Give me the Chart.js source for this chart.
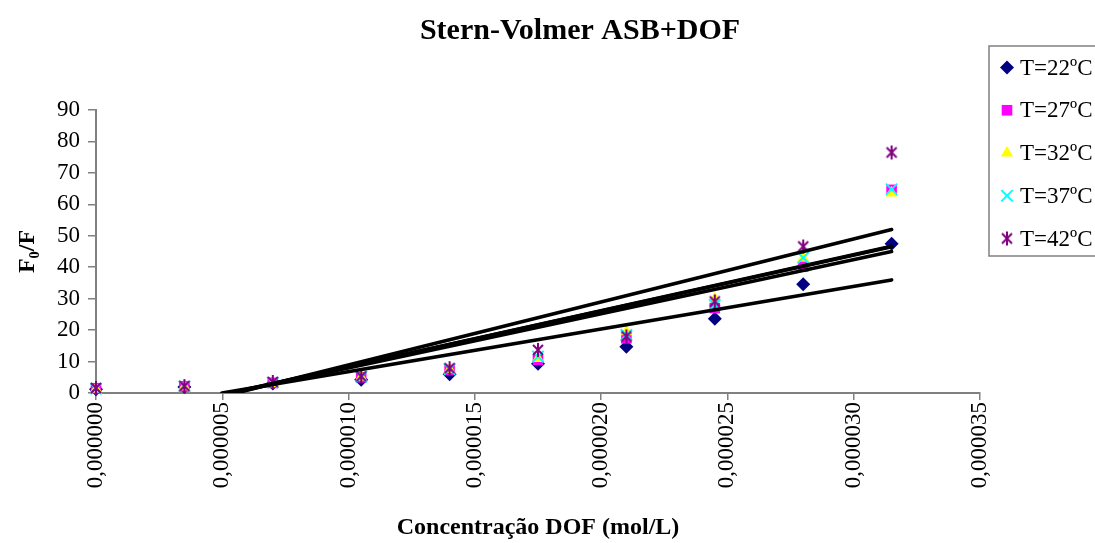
<!DOCTYPE html>
<html>
<head>
<meta charset="utf-8">
<script src="https://cdn.jsdelivr.net/npm/chart.js@4/dist/chart.umd.min.js"></script>
<style>
  html, body { margin: 0; padding: 0; background: #fff; }
  #wrap { width: 1095px; height: 543px; position: relative; }
</style>
</head>
<body>
<div id="wrap"><canvas id="c" width="1095" height="543"></canvas></div>
<script>
// DOF concentration (mol/L)
const conc = [0, 3.5e-6, 7e-6, 1.05e-5, 1.4e-5, 1.75e-5, 2.1e-5, 2.45e-5, 2.8e-5, 3.15e-5];

// F0/F at each temperature
const t22 = [1.2, 1.9, 3.0, 4.2, 6.0, 9.3, 14.7, 23.6, 34.6, 47.5];
const t27 = [1.5, 2.1, 3.2, 5.0, 7.3, 10.5, 17.4, 27.0, 40.2, 64.6];
const t32 = [1.3, 2.0, 3.0, 5.0, 7.5, 11.0, 19.5, 30.0, 42.9, 63.6];
const t37 = [1.4, 2.1, 3.3, 5.2, 7.6, 11.6, 18.5, 28.0, 43.0, 64.8];
const t42 = [1.6, 2.2, 3.5, 5.3, 7.9, 13.7, 18.0, 29.1, 46.6, 76.5];

const seriesLabels = ['T=22ºC', 'T=27ºC', 'T=32ºC', 'T=37ºC', 'T=42ºC'];
const seriesValues = [t22, t27, t32, t37, t42];

// x-axis ticks
const xMin = 0, xMax = 0.000035, xStep = 0.000005;
// y-axis ticks
const yMin = 0, yMax = 90, yStep = 10;

// six-armed asterisk marker
function asteriskMarker(color) {
  const s = 16, c = document.createElement('canvas');
  c.width = s; c.height = s;
  const g = c.getContext('2d');
  g.strokeStyle = color; g.lineWidth = 2;
  g.beginPath();
  g.moveTo(3, 3); g.lineTo(13, 13);
  g.moveTo(13, 3); g.lineTo(3, 13);
  g.moveTo(8, 1); g.lineTo(8, 15);
  g.stroke();
  return c;
}

const styles = [
  { pointStyle: 'rectRot', radius: 7, color: '#000080', fill: true },
  { pointStyle: 'rect', radius: 7.5, color: '#FF00FF', fill: true },
  { pointStyle: 'triangle', radius: 7, color: '#FFFF00', fill: true },
  { pointStyle: 'crossRot', radius: 8, color: '#00FFFF', fill: false },
  { pointStyle: asteriskMarker('#800080'), radius: 8, color: '#800080', fill: false }
];

// least-squares line through each series
function fit(xs, ys) {
  const n = xs.length;
  const mx = xs.reduce((a, b) => a + b, 0) / n;
  const my = ys.reduce((a, b) => a + b, 0) / n;
  let sxy = 0, sxx = 0;
  for (let i = 0; i < n; i++) { sxy += (xs[i] - mx) * (ys[i] - my); sxx += (xs[i] - mx) ** 2; }
  const m = sxy / sxx;
  return { m, b: my - m * mx };
}

const datasets = [];
seriesValues.forEach((vals, i) => {
  const st = styles[i];
  datasets.push({
    type: 'scatter',
    label: seriesLabels[i],
    data: conc.map((x, k) => ({ x, y: vals[k] })),
    pointStyle: st.pointStyle,
    pointRadius: st.radius,
    pointHoverRadius: st.radius,
    backgroundColor: st.fill ? st.color : 'transparent',
    borderColor: st.color,
    borderWidth: st.fill ? 0 : 2,
    order: 10 - i,
    clip: false
  });
});
seriesValues.forEach((vals) => {
  const { m, b } = fit(conc, vals);
  const xEnd = conc[conc.length - 1];
  const xStart = Math.max(conc[0], -b / m);
  datasets.push({
    type: 'line',
    label: '',
    data: [{ x: xStart, y: m * xStart + b }, { x: xEnd, y: m * xEnd + b }],
    borderColor: '#000',
    borderWidth: 3.6,
    borderCapStyle: 'round',
    pointRadius: 0,
    fill: false,
    order: 0
  });
});

const serif = "'Liberation Serif', 'Times New Roman', serif";

const titleAndLegend = {
  id: 'titleAndLegend',
  afterDraw(chart) {
    const ctx = chart.ctx;
    ctx.save();
    // title
    ctx.fillStyle = '#000';
    ctx.font = 'bold 30px ' + serif;
    ctx.textAlign = 'center';
    ctx.textBaseline = 'middle';
    ctx.fillText('Stern-Volmer ASB+DOF', 580, 31);
    // legend box
    ctx.strokeStyle = '#808080';
    ctx.lineWidth = 1.5;
    ctx.strokeRect(989, 46, 140, 210);
    ctx.font = '23px ' + serif;
    ctx.textAlign = 'left';
    seriesLabels.forEach((lab, i) => {
      const y = 67.5 + i * 42.75;
      const st = styles[i];
      ctx.fillStyle = st.fill ? st.color : 'transparent';
      ctx.strokeStyle = st.color;
      ctx.lineWidth = st.fill ? 0 : 2;
      Chart.helpers.drawPoint(ctx, { pointStyle: st.pointStyle, radius: st.radius, rotation: 0, borderWidth: st.fill ? 0 : 2 }, 1007, y);
      ctx.fillStyle = '#000';
      ctx.fillText(lab, 1020, y + 1);
    });
    ctx.restore();
  }
};

new Chart(document.getElementById('c'), {
  data: { datasets },
  options: {
    responsive: false,
    animation: false,
    events: [],
    layout: { padding: { top: 110, right: 115, left: 0, bottom: 0 } },
    plugins: { legend: { display: false }, tooltip: { enabled: false }, title: { display: false } },
    scales: {
      x: {
        type: 'linear',
        min: xMin, max: xMax,
        afterFit(s) { s.height = 150; },
        ticks: {
          stepSize: xStep,
          minRotation: 90, maxRotation: 90,
          padding: 2,
          color: '#000',
          font: { family: serif, size: 23 },
          callback: (v) => Number(v).toFixed(6).replace('.', ',')
        },
        grid: { display: true, drawOnChartArea: false, drawTicks: true, tickLength: 7, color: '#808080', lineWidth: 1.5 },
        border: { display: true, color: '#808080', width: 2 },
        title: { display: true, text: 'Concentração DOF (mol/L)', color: '#000', font: { family: serif, size: 24, weight: 'bold' }, padding: { top: 0, bottom: 1 } }
      },
      y: {
        type: 'linear',
        min: yMin, max: yMax,
        afterFit(s) { s.width = 96; },
        ticks: { stepSize: yStep, padding: 8, color: '#000', font: { family: serif, size: 23 } },
        grid: { display: true, drawOnChartArea: false, drawTicks: true, tickLength: 8, color: '#808080', lineWidth: 1.5 },
        border: { display: true, color: '#808080', width: 2 },
        title: { display: true, text: 'F₀/F', color: '#000', font: { family: serif, size: 24, weight: 'bold' }, padding: { top: 13, bottom: 0 } }
      }
    }
  },
  plugins: [titleAndLegend]
});
</script>
</body>
</html>
